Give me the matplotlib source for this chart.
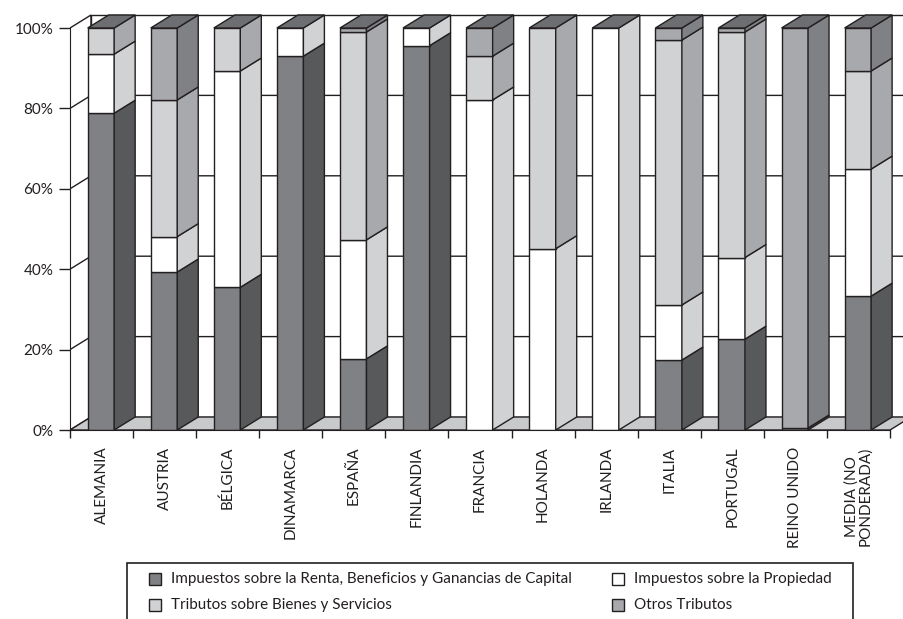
import matplotlib.pyplot as plt
from matplotlib.patches import Polygon, Rectangle

# shares of total tax revenue (%)
countries = ['ALEMANIA', 'AUSTRIA', 'BÉLGICA', 'DINAMARCA', 'ESPAÑA',
             'FINLANDIA', 'FRANCIA', 'HOLANDA', 'IRLANDA', 'ITALIA',
             'PORTUGAL', 'REINO UNIDO', 'MEDIA (NO\nPONDERADA)']
renta = [78.8, 39.3, 35.5, 93.0, 17.7, 95.6, 0, 0, 0, 17.4, 22.6, 0.5, 33.3]
propiedad = [14.7, 8.8, 53.8, 7.0, 29.6, 4.4, 82.1, 45.1, 100, 13.7, 20.3, 0, 31.6]
bienes = [6.5, 34.0, 10.7, 0, 51.7, 0, 10.9, 54.9, 0, 65.9, 56.1, 0, 24.4]
otros = [0, 17.9, 0, 0, 1.0, 0, 7.0, 0, 0, 3.0, 1.0, 99.5, 10.7]

series_names = ['Impuestos sobre la Renta, Beneficios y Ganancias de Capital',
                'Impuestos sobre la Propiedad',
                'Tributos sobre Bienes y Servicios',
                'Otros Tributos']

INK = '#231f20'
# (front, side) colours per series
front_cols = ['#808184', '#ffffff', '#d1d2d4', '#a7a9ac']
side_cols = ['#58595b', '#d1d2d4', '#a7a9ac', '#808184']
top_col = '#6d6e71'
floor_col = '#c8c9cb'

plt.rcParams['font.family'] = ['Lato', 'DejaVu Sans']

W, H = 904, 619
fig = plt.figure(figsize=(W / 100, H / 100), dpi=100)
ax = fig.add_axes([70 / W, (H - 430) / H, (W - 70) / W, 430 / H])
px_x = 63.08   # pixels per category
px_y = 4.02    # pixels per percent
ax.set_xlim(0, (W - 70) / px_x)
ax.set_ylim(0, 430 / px_y)

n = len(countries)
dx = 21 / px_x
dy = 13 / px_y
lw = 1.0

# side wall
ax.add_patch(Polygon([(0, 0), (dx, dy), (dx, 100 + dy), (0, 100)],
                     closed=True, facecolor='white', edgecolor=INK, lw=lw,
                     zorder=0.2))
# back wall
ax.add_patch(Rectangle((dx, dy), n + 0.5, 100, facecolor='white',
                       edgecolor=INK, lw=lw, clip_on=False, zorder=0.2))
# gridlines on both walls
for v in [20, 40, 60, 80]:
    ax.plot([0, dx, n + 1], [v, v + dy, v + dy], color=INK, lw=lw, zorder=0.3)
# floor
ax.add_patch(Polygon([(0, 0), (n, 0), (n + dx, dy), (dx, dy)],
                     closed=True, facecolor=floor_col, edgecolor=INK, lw=lw,
                     zorder=0.4))

# bars
stack = [renta, propiedad, bienes, otros]
for i in range(n):
    x0 = i + 0.28
    x1 = i + 0.70
    base = 0
    for k, vals in enumerate(stack):
        h = vals[i]
        if h <= 0:
            continue
        ax.add_patch(Rectangle((x0, base), x1 - x0, h, facecolor=front_cols[k],
                               edgecolor=INK, lw=lw, zorder=1))
        ax.add_patch(Polygon([(x1, base), (x1 + dx, base + dy),
                              (x1 + dx, base + h + dy), (x1, base + h)],
                             closed=True, facecolor=side_cols[k],
                             edgecolor=INK, lw=lw, zorder=1))
        base += h
    ax.add_patch(Polygon([(x0, base), (x1, base), (x1 + dx, base + dy),
                          (x0 + dx, base + dy)], closed=True,
                         facecolor=top_col, edgecolor=INK, lw=lw, zorder=1))

# axes
for s in ['top', 'right']:
    ax.spines[s].set_visible(False)
ax.spines['left'].set_bounds(0, 100)
ax.spines['bottom'].set_bounds(0, n)
ax.spines['left'].set_color(INK)
ax.spines['bottom'].set_color(INK)
ax.set_yticks([0, 20, 40, 60, 80, 100])
ax.set_yticklabels(['0%', '20%', '40%', '60%', '80%', '100%'])
ax.tick_params(axis='y', length=8, width=1, color=INK, labelsize=11,
               labelcolor=INK, pad=4)
ax.set_xticks(range(n + 1))
ax.set_xticklabels([])
ax.tick_params(axis='x', which='major', length=6, width=1, color=INK)
ax.set_xticks([i + 0.5 for i in range(n)], minor=True)
ax.set_xticklabels(countries, minor=True, rotation=90, fontsize=11,
                   color=INK, va='top', ha='center', linespacing=1.0)
ax.tick_params(axis='x', which='minor', length=0, pad=12)

# legend, drawn by hand so the box can run off the bottom edge
fig.add_artist(Rectangle((127 / W, -0.05), (853 - 127) / W, (H - 563) / H + 0.05,
                         transform=fig.transFigure, facecolor='white',
                         edgecolor=INK, lw=1.2))
# row 1: renta / propiedad, row 2: bienes / otros
spots = [(149, 579), (612, 579), (149, 605), (612, 605)]
for k, (lx, ly) in enumerate(spots):
    fig.add_artist(Rectangle((lx / W, (H - ly - 6) / H), 12 / W, 12 / H,
                             transform=fig.transFigure, facecolor=front_cols[k],
                             edgecolor=INK, lw=1))
    fig.text((lx + 22) / W, (H - ly) / H, series_names[k], fontsize=11,
             color=INK, va='center', ha='left')

fig.savefig('out.png', dpi=100)
